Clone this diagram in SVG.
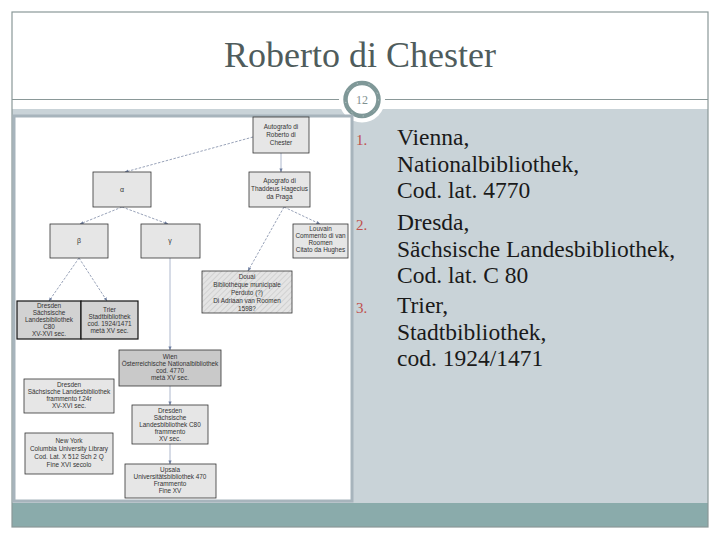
<svg xmlns="http://www.w3.org/2000/svg" width="720" height="540" viewBox="0 0 720 540">
<defs>
<style>
.title{font-family:"Liberation Serif",serif;font-size:36px;fill:#4f5c5c}
.num{font-family:"Liberation Serif",serif;font-size:15px;fill:#c0504d}
.li{font-family:"Liberation Serif",serif;font-size:23.5px;fill:#1a1a1a}
.box{fill:#e6e6e6;stroke:#333;stroke-width:0.8}
.box2{fill:#d2d2d2;stroke:#111;stroke-width:1.2}
.box3{fill:#c9c9c9;stroke:#333;stroke-width:0.8}
.t{font-family:"Liberation Sans",Arial,sans-serif;font-size:6.4px;fill:#333;text-anchor:middle}
.g{font-family:"Liberation Sans",Arial,sans-serif;font-size:7px;fill:#333;text-anchor:middle}
.dash{stroke:#7d8aa6;stroke-width:0.8;stroke-dasharray:2.5 1.5;fill:none;marker-end:url(#ah)}
.sol{stroke:#9aa6c0;stroke-width:0.8;fill:none;marker-end:url(#ah)}
</style>
<marker id="ah" viewBox="0 0 10 10" refX="9" refY="5" markerWidth="5" markerHeight="5" orient="auto">
<path d="M0,1 L10,5 L0,9 z" fill="#6f7fa0"/>
</marker>
<pattern id="hatch" width="4" height="4" patternUnits="userSpaceOnUse" patternTransform="rotate(45)">
<rect width="4" height="4" fill="#e4e4e4"/>
<line x1="0" y1="0" x2="0" y2="4" stroke="#b5b5b5" stroke-width="0.8"/>
</pattern>
</defs>
<rect width="720" height="540" fill="#fff"/>
<rect x="12" y="109" width="696" height="394" fill="#c9d3d8"/>
<rect x="12" y="503" width="696" height="24" fill="#8aabab"/>
<rect x="12" y="12" width="696" height="515" fill="none" stroke="#8a9898" stroke-width="1.2"/>
<line x1="12" y1="99.5" x2="708" y2="99.5" stroke="#8a9898" stroke-width="1.2"/>
<text class="title" x="360" y="67" text-anchor="middle">Roberto di Chester</text>
<g id="slide-number">
<circle cx="362" cy="99.5" r="23" fill="#fff"/>
<circle cx="362" cy="99.5" r="16.5" fill="#fff" stroke="#7f9898" stroke-width="4.5"/>
<circle cx="362" cy="99.5" r="16.5" fill="none" stroke="#c9d6d6" stroke-width="1" stroke-dasharray="1 11"/>
<text x="362" y="104" text-anchor="middle" font-family="Liberation Serif,serif" font-size="12" fill="#7f9090">12</text>
</g>
<rect x="14" y="116" width="338" height="385" fill="#fff" stroke="#a7b4bc" stroke-width="3"/>
<g id="connectors">
<path class="dash" d="M253,137 L125,172"/>
<path class="dash" d="M122,207 L80,224"/>
<path class="dash" d="M122,207 L168,224"/>
<path class="dash" d="M79,258 L49,301"/>
<path class="dash" d="M79,258 L107,301"/>
<path class="sol" d="M281,153 L281,172"/>
<path class="dash" d="M284,207 L320,224"/>
<path class="dash" d="M284,207 L248,271"/>
<path class="sol" d="M170,258 L170,350"/>
<path class="sol" d="M170,386 L170,405"/>
<path class="sol" d="M170,444 L170,464"/>
</g>
<g id="n-autografo">
<rect class="box" x="253" y="117" width="56" height="36"/>
<text class="t" x="281" y="129">Autografo di</text>
<text class="t" x="281" y="137">Roberto di</text>
<text class="t" x="281" y="145">Chester</text>
</g>
<g id="n-alpha">
<rect class="box" x="93" y="172" width="58" height="35"/>
<text class="g" x="122" y="192">α</text>
</g>
<g id="n-apografo">
<rect class="box" x="249" y="172" width="61" height="35"/>
<text class="t" x="279.5" y="183">Apografo di</text>
<text class="t" x="279.5" y="191">Thaddeus Hagecius</text>
<text class="t" x="279.5" y="199">da Praga</text>
</g>
<g id="n-beta">
<rect class="box" x="50" y="224" width="58" height="34"/>
<text class="g" x="79" y="243">β</text>
</g>
<g id="n-gamma">
<rect class="box" x="141" y="224" width="59" height="34"/>
<text class="g" x="170" y="243">γ</text>
</g>
<g id="n-louvain">
<rect class="box" x="293" y="224" width="55" height="34"/>
<text class="t" x="320.5" y="231">Louvain</text>
<text class="t" x="320.5" y="238">Commento di van</text>
<text class="t" x="320.5" y="245">Roomen</text>
<text class="t" x="320.5" y="252">Citato da Hughes</text>
</g>
<g id="n-douai">
<rect x="202" y="271" width="90" height="42" fill="url(#hatch)" stroke="#333" stroke-width="0.8"/>
<text class="t" x="247" y="279">Douai</text>
<text class="t" x="247" y="287">Bibliothèque municipale</text>
<text class="t" x="247" y="295">Perduto (?)</text>
<text class="t" x="247" y="303">Di Adriaan van Roomen</text>
<text class="t" x="247" y="311">1598?</text>
</g>
<g id="n-dresden-c80">
<rect class="box2" x="17" y="301" width="64" height="38"/>
<text class="t" x="49" y="308">Dresden</text>
<text class="t" x="49" y="315">Sächsische</text>
<text class="t" x="49" y="322">Landesbibliothek</text>
<text class="t" x="49" y="329">C80</text>
<text class="t" x="49" y="336">XV-XVI sec.</text>
</g>
<g id="n-trier">
<rect class="box2" x="81" y="301" width="57" height="38"/>
<text class="t" x="109.5" y="312">Trier</text>
<text class="t" x="109.5" y="319">Stadtbibliothek</text>
<text class="t" x="109.5" y="326">cod. 1924/1471</text>
<text class="t" x="109.5" y="333">metà XV sec.</text>
</g>
<g id="n-wien">
<rect class="box3" x="119" y="350" width="102" height="36"/>
<text class="t" x="170" y="359">Wien</text>
<text class="t" x="170" y="366">Österreichische Nationalbibliothek</text>
<text class="t" x="170" y="373">cod. 4770</text>
<text class="t" x="170" y="380">metà XV sec.</text>
</g>
<g id="n-dresden-fr1">
<rect class="box" x="24" y="379" width="90" height="34"/>
<text class="t" x="69" y="387">Dresden</text>
<text class="t" x="69" y="394">Sächsische Landesbibliothek</text>
<text class="t" x="69" y="401">frammento f.24r</text>
<text class="t" x="69" y="408">XV-XVI sec.</text>
</g>
<g id="n-newyork">
<rect class="box" x="25" y="433" width="88" height="41"/>
<text class="t" x="69" y="443">New York</text>
<text class="t" x="69" y="451">Columbia University Library</text>
<text class="t" x="69" y="459">Cod. Lat. X 512 Sch 2 Q</text>
<text class="t" x="69" y="467">Fine XVI secolo</text>
</g>
<g id="n-dresden-fr2">
<rect class="box" x="132" y="405" width="76" height="39"/>
<text class="t" x="170" y="413">Dresden</text>
<text class="t" x="170" y="420">Sächsische</text>
<text class="t" x="170" y="427">Landesbibliothek C80</text>
<text class="t" x="170" y="434">frammento</text>
<text class="t" x="170" y="441">XV sec.</text>
</g>
<g id="n-upsala">
<rect class="box" x="125" y="464" width="91" height="34"/>
<text class="t" x="170" y="472">Upsala</text>
<text class="t" x="170" y="479">Universitätsbibliothek 470</text>
<text class="t" x="170" y="486">Frammento</text>
<text class="t" x="170" y="493">Fine XV</text>
</g>
<g id="list">
<text class="num" x="356" y="145">1.</text>
<text class="li" x="397" y="145">Vienna,</text>
<text class="li" x="397" y="172">Nationalbibliothek,</text>
<text class="li" x="397" y="198">Cod. lat. 4770</text>
<text class="num" x="356" y="230">2.</text>
<text class="li" x="397" y="230">Dresda,</text>
<text class="li" x="397" y="257">Sächsische Landesbibliothek,</text>
<text class="li" x="397" y="283">Cod. lat. C 80</text>
<text class="num" x="356" y="313">3.</text>
<text class="li" x="397" y="313">Trier,</text>
<text class="li" x="397" y="340">Stadtbibliothek,</text>
<text class="li" x="397" y="366">cod. 1924/1471</text>
</g>
</svg>
